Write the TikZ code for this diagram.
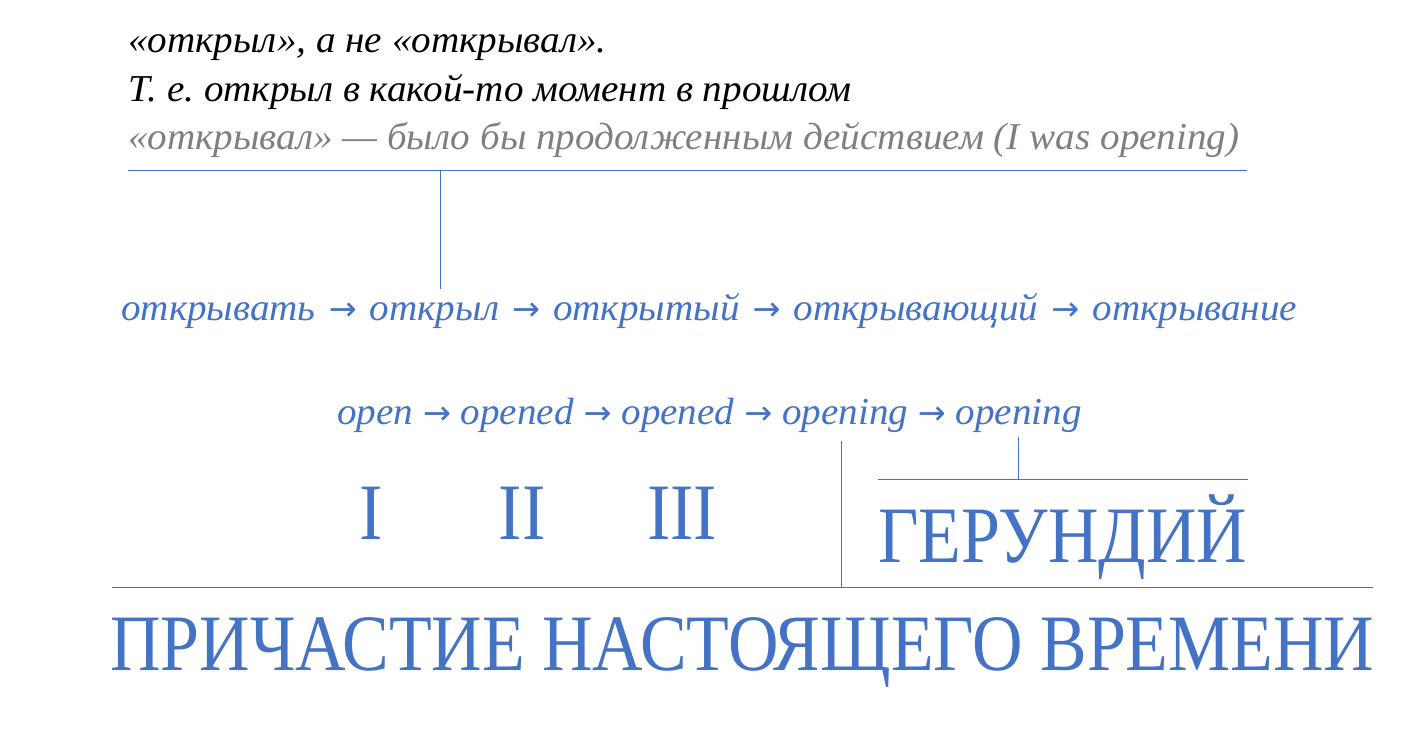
\documentclass[tikz,border=0pt]{standalone}
\usepackage{fontspec}
\usepackage{xcolor}
\usepackage{graphicx}
\setmainfont{Liberation Serif}
\newfontfamily\notefont[FakeStretch=1.03]{Liberation Serif}
\newfontfamily\capsfont[FakeStretch=0.874]{Liberation Serif}
\newfontfamily\arrowfont{DejaVu Sans}
\definecolor{blu}{HTML}{4472C4}
\definecolor{gry}{HTML}{7F7F7F}
\newcommand{\ar}{\resizebox{28pt}{!}{\arrowfont →}}
\frenchspacing
\tikzset{
  txt/.style={inner sep=0pt, anchor=base west, font=\fontsize{38}{42}\notefont\itshape},
  big/.style={inner sep=0pt, anchor=base west, text=blu, font=\fontsize{80}{90}\capsfont},
  rule/.style={draw=blu, line width=1pt}
}
\begin{document}
\begin{tikzpicture}[x=1pt, y=-1pt]
  \useasboundingbox (0,0) rectangle (1422,730);

  % notes on top
  \node[txt] (n1) at (128,53) {«открыл», а не «открывал».};
  \node[txt] (n2) at (128,102) {Т. е. открыл в какой-то момент в прошлом};
  \node[txt, text=gry] (n3) at (128,150) {«открывал» — было бы продолженным действием (I was opening)};
  \draw[rule] (128,171) coordinate (u1) -- (1247,171) coordinate (u2);
  \draw[rule] (440,171) coordinate (t1) -- (440,289) coordinate (t2);

  % the two rows of forms
  \node[txt, text=blu] (ru) at (121,320) {\spaceskip=13pt открывать \ar{} открыл \ar{} открытый \ar{} открывающий \ar{} открывание};
  \node[txt, text=blu] (en) at (337,424) {open \ar{} opened \ar{} opened \ar{} opening \ar{} opening};

  % numbers and labels
  \node[big, anchor=base] (f1) at (371,539) {I};
  \node[big, anchor=base] (f2) at (522,539) {II};
  \node[big, anchor=base] (f3) at (682,539) {III};
  \draw[rule] (841,441) coordinate (s1) -- (841,587) coordinate (s2);
  \draw[rule] (1018,437) coordinate (g1) -- (1018,479) coordinate (g2);
  \draw[rule] (878,479) coordinate (g3) -- (1248,479) coordinate (g4);
  \node[big] (ger) at (878,562) {ГЕРУНДИЙ};
  \draw[rule] (112,587) coordinate (p1) -- (1373,587) coordinate (p2);
  \node[big] (pr) at (110,670) {ПРИЧАСТИЕ НАСТОЯЩЕГО ВРЕМЕНИ};
\end{tikzpicture}
\end{document}
